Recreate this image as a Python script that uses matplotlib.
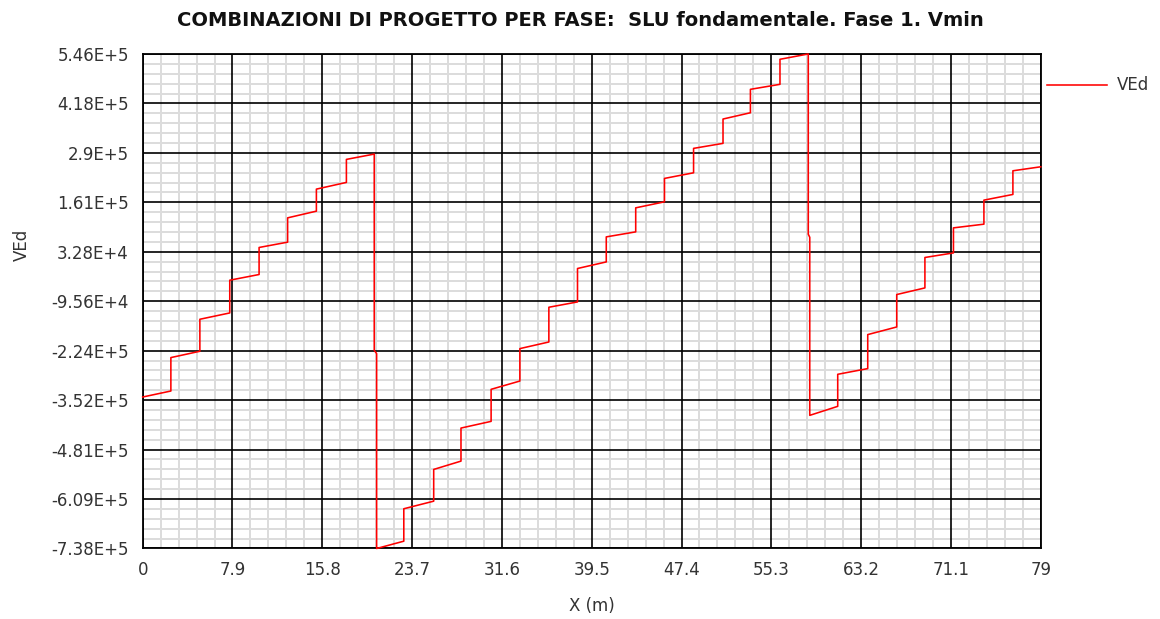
import numpy as np
import matplotlib
matplotlib.use('Agg')
import matplotlib.pyplot as plt
from matplotlib.ticker import FixedLocator, AutoMinorLocator
from matplotlib.lines import Line2D

# Shear along the beam, X in m, steps of VEd (start/end value of each step)
span1_x0 = [0.00, 2.48, 5.03, 7.66, 10.24, 12.75, 15.28, 17.92]
span1_x1 = [2.48, 5.03, 7.66, 10.24, 12.75, 15.28, 17.92, 20.37]
span1_v0 = [-344700, -242300, -142800, -41400, 43600, 120500, 195100, 272300]
span1_v1 = [-329100, -225900, -126400, -26600, 57400, 137900, 212500, 286100]

# support 1 jump
drop1_x = [20.37, 20.58]
drop1_v = [-223400, -232000]

span2_x0 = [20.58, 22.97, 25.60, 28.00, 30.65, 33.18, 35.73, 38.25, 40.78,
            43.37, 45.90, 48.46, 51.05, 53.46, 56.06]
span2_x1 = [22.97, 25.60, 28.00, 30.65, 33.18, 35.73, 38.25, 40.78, 43.37,
            45.90, 48.46, 51.05, 53.46, 56.06, 58.55]
span2_v0 = [-738000, -634800, -532700, -425300, -324700, -219000, -111600, -11000,
            71100, 146500, 222900, 300900, 377100, 454200, 532200]
span2_v1 = [-719000, -615100, -511100, -407900, -303200, -201800, -97800, 6100,
            84100, 162100, 237500, 313900, 393400, 467200, 546000]

# support 2 jump
drop2_x = [58.55, 58.68]
drop2_v = [78100, 70000]

span3_x0 = [58.68, 61.14, 63.78, 66.33, 68.81, 71.32, 74.00, 76.55]
span3_x1 = [61.14, 63.78, 66.33, 68.81, 71.32, 74.00, 76.55, 79.00]
span3_v0 = [-392300, -285700, -182600, -78600, 17600, 94500, 166500, 242700]
span3_v1 = [-368900, -270900, -162800, -61400, 29500, 104100, 181300, 253100]

x_ticks = [0, 7.9, 15.8, 23.7, 31.6, 39.5, 47.4, 55.3, 63.2, 71.1, 79]
x_labels = ['0', '7.9', '15.8', '23.7', '31.6', '39.5', '47.4', '55.3', '63.2', '71.1', '79']
y_labels = ['-7.38E+5', '-6.09E+5', '-4.81E+5', '-3.52E+5', '-2.24E+5', '-9.56E+4',
            '3.28E+4', '1.61E+5', '2.9E+5', '4.18E+5', '5.46E+5']
y_min, y_max = -738000, 546000


def steps(x0, x1, v0, v1):
    xs, vs = [], []
    for a, b, c, d in zip(x0, x1, v0, v1):
        xs += [a, b]
        vs += [c, d]
    return xs, vs


xs, vs = [], []
for part in [steps(span1_x0, span1_x1, span1_v0, span1_v1), (drop1_x, drop1_v),
             steps(span2_x0, span2_x1, span2_v0, span2_v1), (drop2_x, drop2_v),
             steps(span3_x0, span3_x1, span3_v0, span3_v1)]:
    xs += list(part[0])
    vs += list(part[1])

plt.rcParams['font.family'] = ['DejaVu Sans']

fig = plt.figure(figsize=(11.6, 6.19), dpi=100)
ax = fig.add_axes([0.1230, 0.1139, 0.7742, 0.7989])

ax.plot(xs, vs, color='#ff0000', lw=1.15, zorder=4, clip_on=False)

ax.set_xlim(0, 79)
ax.set_ylim(y_min, y_max)
y_ticks = np.linspace(y_min, y_max, 11)
ax.xaxis.set_major_locator(FixedLocator(x_ticks))
ax.set_xticklabels(x_labels)
ax.yaxis.set_major_locator(FixedLocator(y_ticks))
ax.set_yticklabels(y_labels)
ax.xaxis.set_minor_locator(AutoMinorLocator(5))
ax.yaxis.set_minor_locator(AutoMinorLocator(5))

# light minor grid underneath, black major grid on top of it
ax.grid(which='minor', color='#dcdcdc', lw=1.4)
for xt in x_ticks:
    ax.axvline(xt, color='black', lw=1.2, zorder=2)
for yt in y_ticks:
    ax.axhline(yt, color='black', lw=1.2, zorder=2)

ax.tick_params(which='both', length=0, labelsize=12, colors='#333333')
ax.tick_params(axis='x', pad=9)
ax.tick_params(axis='y', pad=10)
for s in ax.spines.values():
    s.set_color('black')
    s.set_linewidth(1.3)
    s.set_zorder(3)

ax.set_xlabel('X (m)', fontsize=12, color='#333333', labelpad=13)
fig.text(0.019, 0.605, 'VEd', rotation=90, fontsize=12, color='#333333',
         ha='center', va='center')

fig.suptitle('COMBINAZIONI DI PROGETTO PER FASE:  SLU fondamentale. Fase 1. Vmin',
             x=0.5, y=0.983, fontsize=14, fontweight='bold', color='#111111')

handle = Line2D([0], [0], color='#ff0000', lw=1.15)
fig.legend([handle], ['VEd'], loc='center left', bbox_to_anchor=(0.8895, 0.862),
           frameon=False, fontsize=12, handlelength=3.6, handletextpad=0.6,
           labelcolor='#333333')

fig.savefig('out.png', dpi=100)
